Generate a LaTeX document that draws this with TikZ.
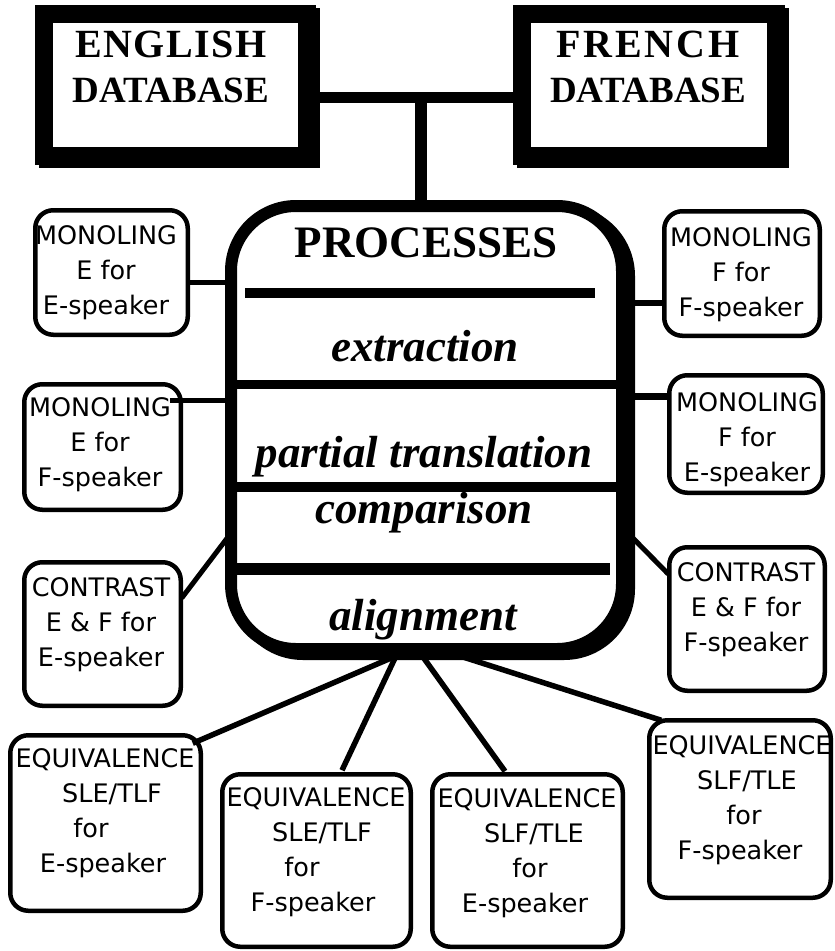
\documentclass[tikz,border=0pt]{standalone}
\usepackage{fontspec}
\setmainfont{Liberation Serif}
\newfontfamily\boxfont{DejaVu Sans}
\usetikzlibrary{calc,backgrounds}
\newcommand\shiftline[2]{\makebox[0pt]{\hspace*{#1}#2\hspace*{-#1}}}
\begin{document}
\begin{tikzpicture}[x=1pt,y=-1pt,
  dbbox/.style={draw, fill=white, line width=18pt, inner sep=0pt, outer sep=0pt},
  procbox/.style={draw, fill=white, line width=12pt, rounded corners=65pt, inner sep=0pt, outer sep=0pt},
  smallbox/.style={draw, line width=4.5pt, rounded corners=18pt, inner sep=0pt, outer sep=0pt},
  boxtext/.style={font=\boxfont\fontsize{25.5}{35}\selectfont, align=center, inner sep=0pt, anchor=north},
  dbtext/.style={font=\bfseries\fontsize{37}{45}\selectfont, align=center, inner sep=0pt, anchor=north},
  proctext/.style={font=\bfseries\itshape\fontsize{45}{50}\selectfont, inner sep=0pt, anchor=base},
  conn/.style={line width=5pt},
  connthick/.style={line width=6.5pt},
  divider/.style={line width=10pt}]
\useasboundingbox (0,0) rectangle (835,951);

% databases
\node[dbbox, minimum width=263pt, minimum height=142pt] (eng) at (175.5,85) {};
\node[dbbox, minimum width=254pt, minimum height=142pt] (fr) at (649,85) {};
\node[dbtext] (engt) at (171,30.5) {{\fontsize{40}{45}\selectfont\addfontfeature{LetterSpace=3.5}ENGLISH}\\DATABASE};
\node[dbtext] (frt) at (648,30.5) {{\fontsize{40}{45}\selectfont\addfontfeature{LetterSpace=7}FRENCH}\\DATABASE};

% processes box
\node[procbox, minimum width=391pt, minimum height=443pt] (proc) at (426.5,427.5) {};

\begin{scope}[on background layer]
  \draw[line width=18pt] ($(eng.south west)+(4,3)$) rectangle ($(eng.north east)+(4,3)$);
  \draw[line width=18pt] ($(fr.south west)+(4,3)$) rectangle ($(fr.north east)+(4,3)$);
  \draw[line width=12pt, rounded corners=65pt] ($(proc.south west)+(7,5)$) rectangle ($(proc.north east)+(7,5)$);
\end{scope}

% database connectors
\coordinate (j) at (421,97.5);
\draw[line width=11pt] ($(eng.east)+(0,12.5)$) -- ($(fr.west)+(0,12.5)$);
\draw[line width=12pt] (j) -- (j |- proc.north);

% dividers
\draw[divider] (245,293) -- (595,293);
\draw[line width=9pt] (231,384) -- (622,384);
\draw[divider] (231,487) -- (622,487);
\draw[line width=12pt] (235,569) -- (610,569);

% process texts
\node[font=\bfseries\fontsize{45}{50}\selectfont, inner sep=0pt, anchor=base] (ptitle) at (426,257) {PROCESSES};
\node[proctext] (pextr) at (425,361) {extraction};
\node[proctext] (ppart) at (424,467) {partial translation};
\node[proctext] (pcomp) at (424,523) {comparison};
\node[proctext] (palig) at (423,630) {alignment};

% small boxes
\node[smallbox, minimum width=152.5pt, minimum height=124.5pt] (ml1) at (111.5,272.5) {};
\node[smallbox, minimum width=155.5pt, minimum height=124.5pt] (mr1) at (742,273.5) {};
\node[smallbox, minimum width=156.5pt, minimum height=125.5pt] (ml2) at (102.5,447) {};
\node[smallbox, minimum width=153.5pt, minimum height=117.5pt] (mr2) at (746,434) {};
\node[smallbox, minimum width=156.5pt, minimum height=143.5pt] (cl) at (102.5,634) {};
\node[smallbox, minimum width=155.5pt, minimum height=143.5pt] (cr) at (747,619) {};
\node[smallbox, minimum width=190.5pt, minimum height=175.5pt] (eq1) at (105.5,823) {};
\node[smallbox, minimum width=188.5pt, minimum height=172.5pt] (eq2) at (316.5,860.5) {};
\node[smallbox, minimum width=190.5pt, minimum height=172.5pt] (eq3) at (527.5,860.5) {};
\node[smallbox, minimum width=181.5pt, minimum height=177.5pt] (eq4) at (740,809) {};

% small box texts
\node[boxtext] (ml1t) at (106,225) {MONOLING\\E for\\E-speaker};
\node[boxtext] (mr1t) at (741,227) {MONOLING\\F for\\F-speaker};
\node[boxtext] (ml2t) at (100,397) {MONOLING\\E for\\F-speaker};
\node[boxtext] (mr2t) at (747,392) {MONOLING\\F for\\E-speaker};
\node[boxtext] (clt) at (101,577) {CONTRAST\\E \& F for\\E-speaker};
\node[boxtext] (crt) at (746,562) {CONTRAST\\E \& F for\\F-speaker};
\node[boxtext] (eq1t) at (105,748) {\shiftline{0pt}{EQUIVALENCE}\\\shiftline{7pt}{SLE/TLF}\\\shiftline{-14pt}{for}\\\shiftline{-2pt}{E-speaker}};
\node[boxtext] (eq2t) at (316,787) {\shiftline{0pt}{EQUIVALENCE}\\\shiftline{6pt}{SLE/TLF}\\\shiftline{-14pt}{for}\\\shiftline{-3pt}{F-speaker}};
\node[boxtext] (eq3t) at (527,788) {\shiftline{0pt}{EQUIVALENCE}\\\shiftline{7pt}{SLF/TLE}\\\shiftline{3pt}{for}\\\shiftline{-2pt}{E-speaker}};
\node[boxtext] (eq4t) at (742,735) {\shiftline{0pt}{EQUIVALENCE}\\\shiftline{5pt}{SLF/TLE}\\\shiftline{2pt}{for}\\\shiftline{-2pt}{F-speaker}};

% side connectors
\coordinate (a1) at ($(ml1.east)+(0,9.5)$);
\draw[conn] (a1) -- (a1 -| proc.west);
\coordinate (b1) at ($(mr1.west)+(0,29.5)$);
\draw[connthick] (b1 -| proc.east) -- (b1);
\coordinate (a2) at ($(ml2.north east)+(-11,16)$);
\draw[line width=4.5pt] (a2) -- (a2 -| proc.west);
\coordinate (b2) at ($(mr2.west)+(0,-37.5)$);
\draw[line width=7pt] (b2 -| proc.east) -- (b2);
\coordinate (a3) at ($(cl.east)+(1,-36)$);
\coordinate (p3) at ($(proc.west)+(-3,109.5)$);
\draw[conn] (a3) -- (p3);
\coordinate (p4) at ($(proc.east)+(0,99.5)$);
\coordinate (b4) at ($(cr.west)+(-1,-45)$);
\draw[conn] (p4) -- (b4);

% bottom connectors
\draw[line width=5.5pt] ($(proc.south)+(-33,8)$) -- ($(eq1.north east)+(-8,8)$);
\draw[line width=5.5pt] ($(proc.south)+(-31,8)$) -- ($(eq2.north)+(25.5,-4)$);
\draw[line width=5.5pt] ($(proc.south)+(-3.5,8)$) -- ($(eq3.north)+(-22.5,-3)$);
\draw[line width=5.5pt] ($(proc.south)+(36.5,8)$) -- ($(eq4.north west)+(12,0)$);
\end{tikzpicture}
\end{document}
